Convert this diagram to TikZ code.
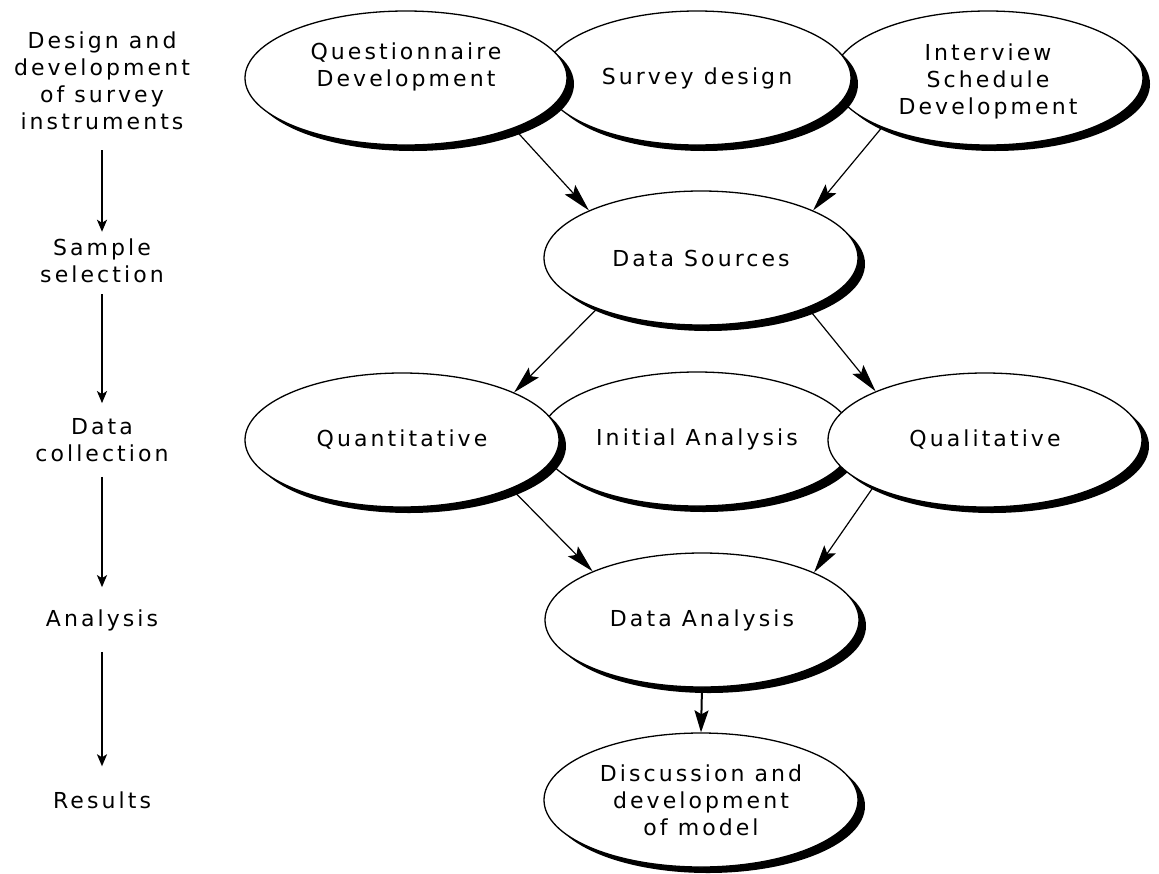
\documentclass[tikz,border=0pt]{standalone}
\usepackage{fontspec}
\newfontfamily\geneva[LetterSpace=14]{DejaVu Sans}
\usetikzlibrary{shapes.geometric,shadows,arrows.meta}
\begin{document}
\begin{tikzpicture}[x=1pt,y=-1pt,
  txt/.style={font=\fontsize{22}{27}\selectfont\geneva, align=center, inner sep=0pt},
  oval/.style={ellipse, draw=black, line width=1.3pt, fill=white, inner sep=0pt,
    minimum width=314pt, minimum height=134pt, txt,
    drop shadow={shadow xshift=7pt, shadow yshift=-6pt, fill=black, opacity=1}},
  link/.style={line width=1.2pt, -{Stealth[length=28pt,width=14pt,inset=5pt]}},
  bigflow/.style={line width=2pt, -{Stealth[length=22pt,width=14pt,inset=4pt]}},
  flow/.style={line width=2pt, -{Stealth[length=12pt,width=10pt,inset=3pt]}},
]
\useasboundingbox (0,0) rectangle (1159,873);
% top row (right drawn first, left on top)
\node[oval, minimum width=310pt] (I) at (988,78) {\rule{0pt}{23pt}Interview\\Schedule\\Development};
\node[oval, minimum width=308pt] (S) at (697,78) {Survey design};
\node[oval, minimum width=322pt] (Q) at (406,78) {Questionnaire\\Development\\\mbox{}};
% data sources
\node[oval] (DS) at (701,258) {Data Sources};
% middle row
\node[oval] (IA) at (697,439) {Initial Analysis};
\node[oval] (QL) at (985,440) {Qualitative};
\node[oval] (QN) at (402,440) {Quantitative};
% lower
\node[oval] (DA) at (702,620) {Data Analysis};
\node[oval] (DD) at (701,800) {Discussion and\\development\\of model};
% connectors
\draw[link] (Q.-25) -- (DS.157);
\draw[link] (I.-155) -- (DS.23);
\draw[link] (DS.-154) -- (QN.23);
\draw[link] (DS.-25) -- (QL.156);
\draw[link] (QN.-24) -- (DA.156);
\draw[link] (QL.-157) -- (DA.23);
\draw[bigflow] (DA.south) -- (DD.north);
% left column
\node[txt] (L1) at (102,81) {Design and\\development\\of survey\\instruments};
\node[txt] (L2) at (102,261) {Sample\\selection};
\node[txt] (L3) at (102,440) {Data\\collection};
\node[txt] (L4) at (102,620) {Analysis};
\node[txt] (L5) at (102,800) {Results};
\draw[flow, shorten <=20pt, shorten >=7pt] (L1) -- (L2);
\draw[flow, shorten <=11pt, shorten >=15pt] (L2) -- (L3);
\draw[flow, shorten <=15pt, shorten >=22pt] (L3) -- (L4);
\draw[flow, shorten <=21pt, shorten >=25pt] (L4) -- (L5);
\end{tikzpicture}
\end{document}
